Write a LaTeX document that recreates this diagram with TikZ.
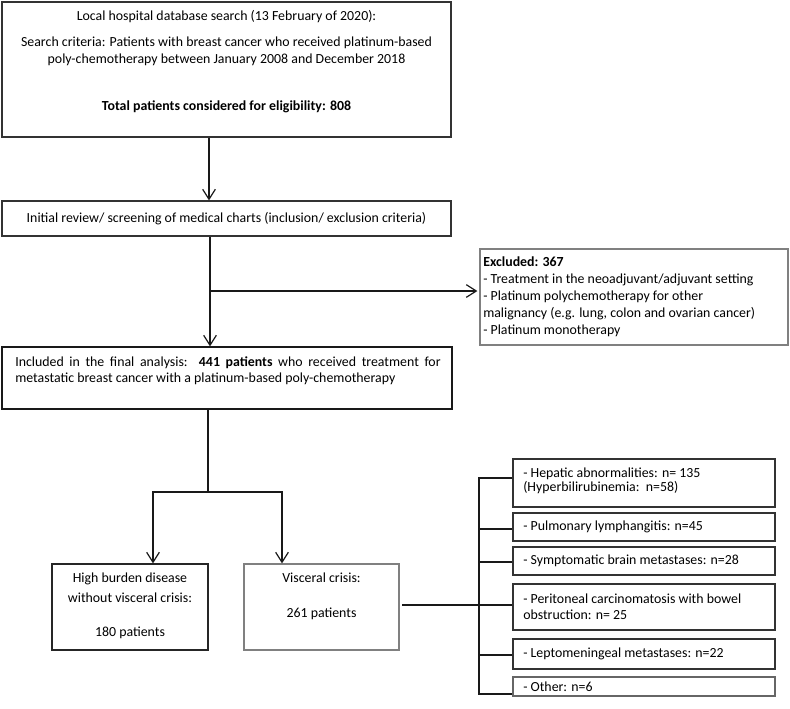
\documentclass[tikz,border=0pt]{standalone}
\usepackage{fontspec}
\setmainfont{Carlito}
\usetikzlibrary{arrows.meta,fit}
\begin{document}
\begin{tikzpicture}[x=0.75pt,y=-0.75pt,
  box/.style={draw=#1, line width=0.9pt, inner sep=0pt},
  box/.default={black!80},
  txt/.style={inner sep=0pt, font=\fontsize{10.4}{12.75}\selectfont},
  conn/.style={line width=0.9pt, black!90},
  arr/.style={conn, -{Straight Barb[length=7.5pt,width=9.5pt]}}]
\useasboundingbox (0,0) rectangle (790,708);
% boxes
\node[box, fit={(2,2) (451,137)}] (b1) {};
\node[box, fit={(2,201) (451,236)}] (b2) {};
\node[box=black!50, fit={(480,249) (788,345)}] (ex) {};
\node[box=black!90, fit={(2,347) (452,409)}] (inc) {};
\node[box=black!85, fit={(52,564) (208,650)}] (hb) {};
\node[box=black!50, fit={(244,564) (399,650)}] (vc) {};
\node[box, fit={(513,459) (775,507)}] (s1) {};
\node[box, fit={(513,513) (775,541)}] (s2) {};
\node[box, fit={(513,547) (775,575)}] (s3) {};
\node[box, fit={(513,584) (775,630)}] (s4) {};
\node[box, fit={(513,639) (775,669)}] (s5) {};
\node[box=black!60, fit={(513,677) (775,696)}] (s6) {};
% texts
\node[txt, align=center] (t1) at (226.5,62) {Local hospital database search (13 February of 2020):\\[6.75pt]
Search criteria: Patients with breast cancer who received platinum-based\\
poly-chemotherapy between January 2008 and December 2018\\[22.5pt]
\textbf{Total patients considered for eligibility: 808}};
\node[txt] (t2) at (b2.center) {Initial review/ screening of medical charts (inclusion/ exclusion criteria)};
\node[txt, align=left, anchor=west] (tex) at (483,297) {\textbf{Excluded: 367}\\
- Treatment in the neoadjuvant/adjuvant setting\\
- Platinum polychemotherapy for other\\
malignancy (e.g. lung, colon and ovarian cancer)\\
- Platinum monotherapy};
\node[txt, align=justify, text width=319pt, anchor=north west, font=\fontsize{10.4}{12.5}\selectfont] (tinc) at (15,356) {Included in the final analysis:\ \ \textbf{441 patients} who received treatment for\linebreak
metastatic breast cancer with a platinum-based poly-chemotherapy};
\node[txt, align=center] (thb) at (130,606) {High burden disease\\[2.25pt] without visceral crisis:\\[12.75pt] 180 patients};
\node[txt, align=center] (tvc) at (321.5,596.5) {Visceral crisis:\\[13.5pt] 261 patients};
\node[txt, align=left, anchor=west, font=\fontsize{10.4}{10.8}\selectfont] (ts1) at (523,481) {- Hepatic abnormalities: n= 135\\(Hyperbilirubinemia:\ \ n=58)};
\node[txt, anchor=west] (ts2) at (523,527) {- Pulmonary lymphangitis: n=45};
\node[txt, anchor=west] (ts3) at (523,561) {- Symptomatic brain metastases: n=28};
\node[txt, align=left, anchor=west, font=\fontsize{10.4}{11.8}\selectfont] (ts4) at (523,607) {- Peritoneal carcinomatosis with bowel\\obstruction: n= 25};
\node[txt, anchor=west] (ts5) at (523,654) {- Leptomeningeal metastases: n=22};
\node[txt, anchor=west] (ts6) at (523,686.5) {- Other: n=6};
% helper coordinates
\coordinate (c1) at (209,0);
\coordinate (c2) at (210,291);
\coordinate (c3) at (208,492);
\coordinate (c4) at (153,492);
\coordinate (c5) at (282,492);
\coordinate (tk1) at (479,478);
\coordinate (tk6) at (479,694);
% connectors
\draw[arr] (b1.south -| c1) -- (b2.north -| c1);
\draw[arr] (b2.south -| c2) -- (inc.north -| c2);
\draw[arr] (c2) -- ([xshift=-1.5pt]ex.west |- c2);
\draw[conn] (inc.south -| c3) -- (c3);
\draw[arr] (c3) -- (c4) -- (hb.north -| c4);
\draw[arr] (c3) -- (c5) -- (vc.north -| c5);
\draw[conn] ([xshift=2pt,yshift=1.5pt]vc.east) -- ([yshift=1.5pt]vc.east -| tk1);
\draw[conn] (s1.west |- tk1) -- (tk1) -- (tk6) -- (s6.west |- tk6);
\draw[conn] ([yshift=-1.5pt]s2.west) -- ([yshift=-1.5pt]s2.west -| tk1);
\draw[conn] ([yshift=-0.75pt]s3.west) -- ([yshift=-0.75pt]s3.west -| tk1);
\draw[conn] ([yshift=1.5pt]s4.west) -- ([yshift=1.5pt]s4.west -| tk1);
\draw[conn] ([yshift=-0.75pt]s5.west) -- ([yshift=-0.75pt]s5.west -| tk1);
\end{tikzpicture}
\end{document}
